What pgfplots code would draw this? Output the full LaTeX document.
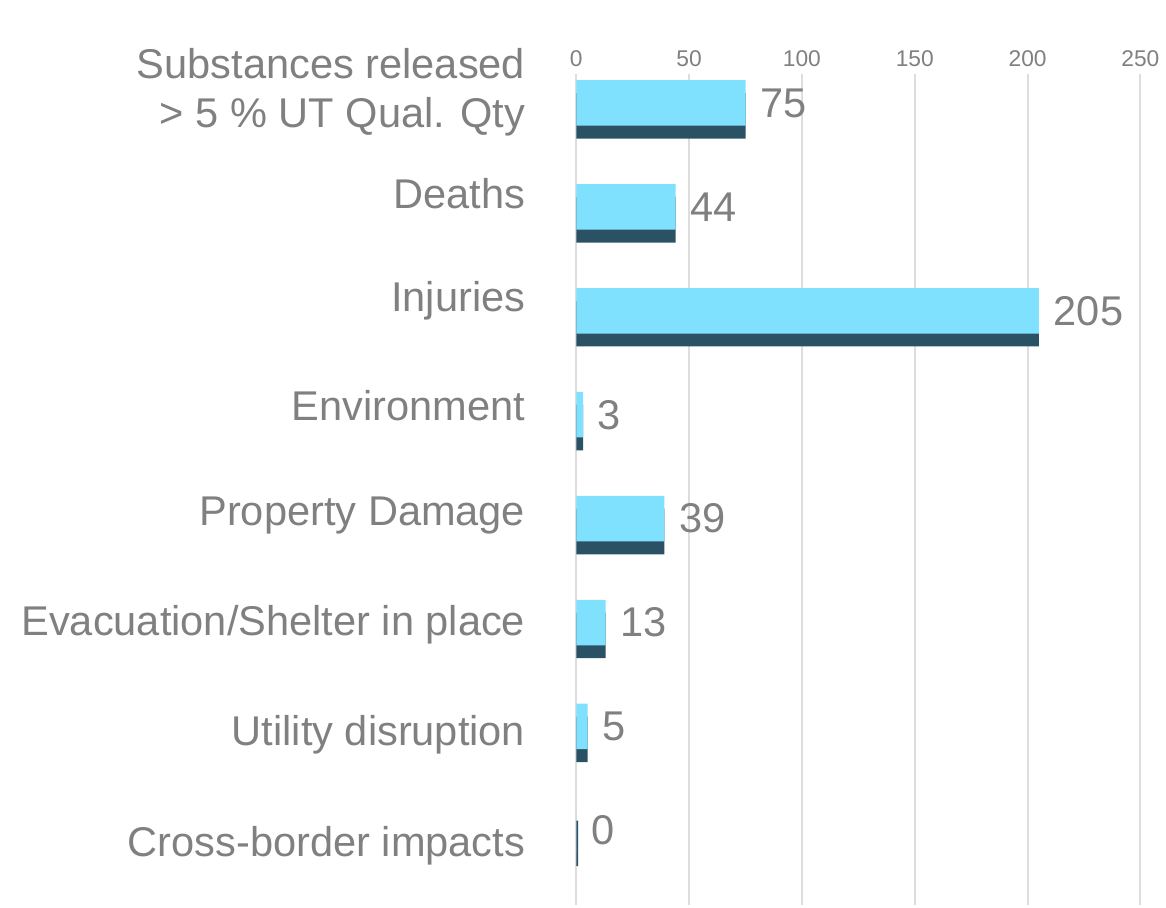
\documentclass[border={7.5pt 1pt 0pt 21pt}]{standalone}
\usepackage{fontspec}
\setmainfont{Liberation Sans}
\usepackage{pgfplots}
\pgfplotsset{compat=1.18}
\definecolor{barlight}{HTML}{80E1FF}
\definecolor{bardark}{HTML}{2B5264}
\definecolor{txtgray}{HTML}{808080}
\definecolor{gridgray}{HTML}{DDDDDD}
\begin{document}
\begin{tikzpicture}
\begin{axis}[
  xbar, scale only axis,
  width=285pt, height=420pt,
  xmin=0, xmax=250, ymin=-0.66, ymax=7.34,
  ytick={-0.09,0.98,2.04,3.09,4.14,5.15,6.18,7.16},
  yticklabels={Cross-border impacts, Utility disruption, Evacuation/Shelter in place, Property Damage, Environment, Injuries, Deaths, {Substances released\\> 5 \% UT Qual. Qty}},
  yticklabel style={align=right, font=\fontsize{21}{25}\selectfont, text=txtgray, xshift=-18pt},
  xtick={0,50,...,250},
  xticklabel pos=upper,
  xticklabel style={font=\fontsize{11.5}{13}\selectfont, text=txtgray},
  /pgf/number format/assume math mode=true,
  xmajorgrids, grid style={gridgray, line width=1pt},
  axis line style={draw=none}, tick style={draw=none},
  bar width=23pt,
]
\addplot[fill=bardark, draw=none, bar shift=-3.5pt] coordinates {
  (75,7) (44,6) (205,5) (3,4) (39,3) (13,2) (5,1) (0.8,0)};
\addplot[fill=barlight, draw=none, bar shift=3pt,
  nodes near coords, point meta=x,
  every node near coord/.append style={font=\fontsize{21}{25}\selectfont, text=txtgray, xshift=4pt}] coordinates {
  (75,7) (44,6) (205,5) (3,4) (39,3) (13,2) (5,1) (0,0)};
\end{axis}
\end{tikzpicture}
\end{document}
